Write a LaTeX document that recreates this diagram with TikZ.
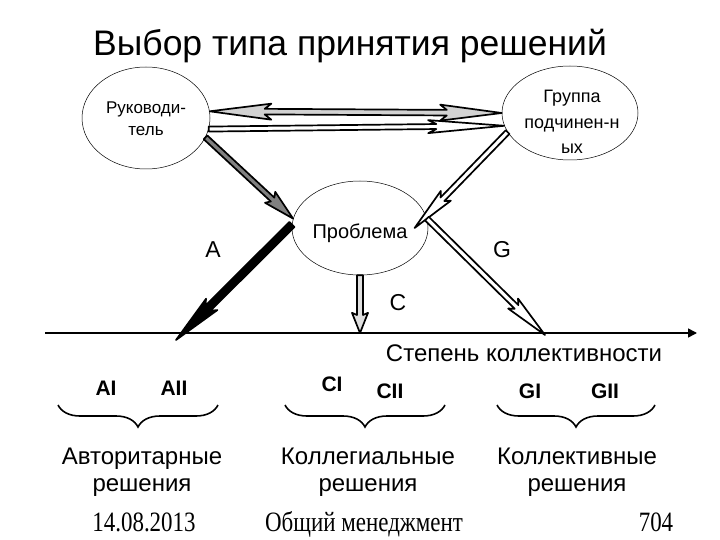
\documentclass[tikz,border=0pt]{standalone}
\usepackage{fontspec}
\setmainfont{Liberation Sans}
\newfontfamily\footfont{Liberation Serif}
\usetikzlibrary{calc, shapes.geometric, decorations.pathreplacing, arrows.meta}

% block arrow: from, to, half shaft, head length, half head, fill
\newcommand{\blockarrow}[6]{%
  \pgfmathsetmacro\babarb{#4*1.12}%
  \path (#2) coordinate (ba-tip) ($(#2)!#4!(#1)$) coordinate (ba-neck)
    ($(#2)!\babarb pt!(#1)$) coordinate (ba-barb);
  \filldraw[arrowline, fill=#6]
    ($(#1)!#3!90:(#2)$) -- ($(ba-neck)!#3!90:(ba-tip)$)
    -- ($(ba-barb)!#5!90:(ba-tip)$) -- (ba-tip)
    -- ($(ba-barb)!#5!-90:(ba-tip)$) -- ($(ba-neck)!#3!-90:(ba-tip)$)
    -- ($(#1)!#3!-90:(#2)$) -- cycle;
}
% same, with a head at both ends
\newcommand{\twinarrow}[6]{%
  \pgfmathsetmacro\babarb{#4*1.12}%
  \path (#1) coordinate (tw-a) ($(#1)!#4!(#2)$) coordinate (tw-na)
    ($(#1)!\babarb pt!(#2)$) coordinate (tw-ba)
    (#2) coordinate (tw-b) ($(#2)!#4!(#1)$) coordinate (tw-nb)
    ($(#2)!\babarb pt!(#1)$) coordinate (tw-bb);
  \filldraw[arrowline, fill=#6]
    (tw-a) -- ($(tw-ba)!#5!90:(tw-b)$) -- ($(tw-na)!#3!90:(tw-b)$)
    -- ($(tw-nb)!#3!90:(tw-b)$) -- ($(tw-bb)!#5!90:(tw-b)$) -- (tw-b)
    -- ($(tw-bb)!#5!-90:(tw-b)$) -- ($(tw-nb)!#3!-90:(tw-b)$)
    -- ($(tw-na)!#3!-90:(tw-b)$) -- ($(tw-ba)!#5!-90:(tw-b)$) -- cycle;
}

\tikzset{
  bubble/.style={draw, ellipse, line width=0.5pt, inner sep=0pt},
  bubtxt/.style={font=\fontsize{17}{22}\selectfont, align=center, inner sep=0pt},
  arrowline/.style={draw=black, line width=1.7pt, line join=round},
  letter/.style={font=\fontsize{23}{23}\selectfont, anchor=base},
  kind/.style={font=\fontsize{21}{21}\selectfont\bfseries, anchor=base},
  result/.style={font=\fontsize{24}{27}\selectfont, align=center, anchor=base},
  brace/.style={decorate, decoration={brace, amplitude=22pt}, line width=1.6pt},
  foot/.style={font=\footfont\fontsize{28}{28}\selectfont, anchor=base}
}

\begin{document}
\begin{tikzpicture}[x=1pt, y=-1pt]
  \useasboundingbox (0,0) rectangle (720,540);

  \node[font=\fontsize{35.5}{36}\selectfont, anchor=base] (title) at (350,56)
    {Выбор типа принятия решений};

  % ellipses
  \node[bubble, minimum width=128pt, minimum height=102pt] (boss) at (146,118) {};
  \node[bubble, minimum width=136pt, minimum height=94pt] (group) at (570,113) {};
  \node[bubble, minimum width=136pt, minimum height=94pt] (prob) at (360,228) {};
  \node[bubtxt] (bosstxt) at (146,119) {Руководи-\\тель};
  \node[bubtxt, font=\fontsize{18}{25.5}\selectfont] (grouptxt) at (572,122)
    {Группа\\подчинен-н\\ых};
  \node[bubtxt, font=\fontsize{20}{20}\selectfont, anchor=base] (probtxt) at (360,238)
    {Проблема};

  % axis
  \coordinate (axl) at (45,333);
  \coordinate (axr) at (697,333);
  \draw[line width=1.5pt, -{Triangle[length=9pt, width=9pt]}] (axl) -- (axr);
  \coordinate (aA) at (176,340);
  \coordinate (aC) at (360,333);
  \coordinate (aG) at (545,335);
  \coordinate (gin) at ($(prob.center)!0.8!(prob.east)$);

  % arrows
  \twinarrow{boss.6}{group.180}{2.8pt}{55pt}{8pt}{gray!35}
  \blockarrow{boss.-10}{group.191}{2.5pt}{68pt}{6.5pt}{white}
  \blockarrow{boss.-18}{prob.172}{2.6pt}{28pt}{7.5pt}{gray}
  \blockarrow{group.197}{gin}{2.6pt}{40pt}{7pt}{white}
  \blockarrow{prob.177}{aA}{3.6pt}{45pt}{8pt}{black}
  \blockarrow{prob.south}{aC}{3pt}{18pt}{8pt}{gray!25}
  \blockarrow{prob.8}{aG}{2.6pt}{40pt}{7pt}{white}

  \node[letter] (lA) at (213,258) {A};
  \node[letter] (lC) at (398,310) {C};
  \node[letter] (lG) at (502,258) {G};
  \node[font=\fontsize{24}{24}\selectfont, anchor=base] (degree) at (524,361)
    {Степень коллективности};

  % kinds of decision
  \node[kind] (ai) at (106,395) {AI};
  \node[kind] (aii) at (174,395) {AII};
  \node[kind] (ci) at (332,391) {CI};
  \node[kind] (cii) at (390,398) {CII};
  \node[kind] (gi) at (530,398) {GI};
  \node[kind] (gii) at (605,398) {GII};

  \draw[brace] (218,405) -- (58,405);
  \draw[brace] (445,405) -- (285,405);
  \draw[brace] (655,405) -- (497,405);

  \node[result] (auto) at (142,491) {Авторитарные\\решения};
  \node[result] (coll) at (368,491) {Коллегиальные\\решения};
  \node[result] (team) at (577,491) {Коллективные\\решения};

  % footer
  \node[foot] (date) at (144,531) {\scalebox{0.82}[1]{14.08.2013}};
  \node[foot] (course) at (364,531) {\scalebox{0.82}[1]{Общий менеджмент}};
  \node[foot] (page) at (656,531) {\scalebox{0.82}[1]{704}};
\end{tikzpicture}
\end{document}
